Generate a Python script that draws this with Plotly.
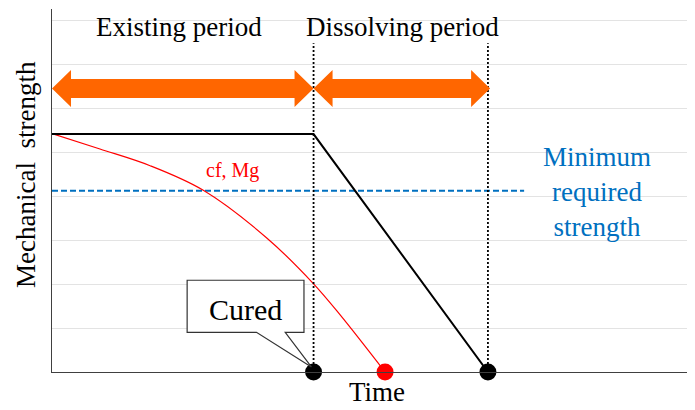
import plotly.graph_objects as go

# ---- data ----
# Existing structure (black): flat strength, then dissolves linearly
black_x = [0, 6, 10]
black_y = [5.42, 5.42, 0]

# cf, Mg curve (red)
red_x = [0, 1.10, 2.25, 3.47, 4.92, 5.99, 6.61, 7.64]
red_y = [5.43, 5.08, 4.70, 4.14, 3.06, 2.02, 1.30, 0.0]

# minimum required strength
min_strength = 4.13
min_x = [0, 10.83]

# end points
black_dot_x = [6, 10]
black_dot_y = [0, 0]
red_dot_x = [7.64]
red_dot_y = [0]

# periods
period_bounds = [0, 6, 10]
period_labels = ["Existing period", "Dissolving period"]
arrow_level = 6.46

FONT = "Liberation Serif, Times New Roman, serif"
ORANGE = "#FF6600"
BLUE = "#0070C0"

fig = go.Figure()

fig.add_trace(go.Scatter(x=min_x, y=[min_strength] * len(min_x), mode="lines",
                         line=dict(color=BLUE, width=2, dash="6px,3px"),
                         hoverinfo="skip", showlegend=False))
fig.add_trace(go.Scatter(x=red_x, y=red_y, mode="lines",
                         line=dict(color="#FF0000", width=1.2, shape="spline", smoothing=1),
                         showlegend=False))
fig.add_trace(go.Scatter(x=black_x, y=black_y, mode="lines",
                         line=dict(color="#000000", width=2),
                         showlegend=False))
fig.add_trace(go.Scatter(x=black_dot_x, y=black_dot_y, mode="markers",
                         marker=dict(color="#000000", size=17),
                         cliponaxis=False, showlegend=False))
fig.add_trace(go.Scatter(x=red_dot_x, y=red_dot_y, mode="markers",
                         marker=dict(color="#FF0000", size=17),
                         cliponaxis=False, showlegend=False))

shapes = []
# dotted vertical boundaries
for xb in period_bounds[1:]:
    shapes.append(dict(type="line", xref="x", yref="y", x0=xb, x1=xb, y0=0, y1=7.49,
                       line=dict(color="#000000", width=1.8, dash="2px,2px"), layer="above"))

# double-headed orange arrows
hl = 0.436   # head length (x units)
sh = 0.217   # half shaft thickness (y units)
hh = 0.42    # half head height (y units)
arrow_ends = [(period_bounds[0], period_bounds[1]), (period_bounds[1], period_bounds[2] + 0.05)]
for (a, b) in arrow_ends:
    y = arrow_level
    p = (f"M {a},{y} L {a+hl},{y+hh} L {a+hl},{y+sh} L {b-hl},{y+sh} L {b-hl},{y+hh} "
         f"L {b},{y} L {b-hl},{y-hh} L {b-hl},{y-sh} L {a+hl},{y-sh} L {a+hl},{y-hh} Z")
    shapes.append(dict(type="path", xref="x", yref="y", path=p, fillcolor=ORANGE,
                       line=dict(width=0), layer="above"))

# "Cured" callout
bx0, bx1, by0, by1 = 3.10, 5.78, 0.905, 2.09
w1, w2, tipx, tipy = 4.69, 5.35, 5.95, 0.115
callout = (f"M {bx0},{by1} L {bx1},{by1} L {bx1},{by0} L {w2},{by0} L {tipx},{tipy} "
           f"L {w1},{by0} L {bx0},{by0} Z")
shapes.append(dict(type="path", xref="x", yref="y", path=callout, fillcolor="white",
                   line=dict(color="#333333", width=1.2), layer="above"))

annotations = [
    dict(x=2.92, y=7.86, text=period_labels[0], font=dict(size=27)),
    dict(x=8.03, y=7.86, text=period_labels[1], font=dict(size=27)),
    dict(x=4.43, y=1.43, text="Cured", font=dict(size=30)),
    dict(x=4.14, y=4.58, text="cf, Mg", font=dict(size=20, color="#FF0000")),
    dict(x=12.5, y=4.11, text="Minimum<br>required<br>strength", align="center",
         font=dict(size=27, color=BLUE)),
]
for a in annotations:
    a.update(xref="x", yref="y", yanchor="middle")
# axis titles placed in paper coordinates (outside the plotting area)
annotations += [
    dict(x=0.505, y=-0.008, xref="paper", yref="paper", text="Time", yanchor="top",
         font=dict(size=27)),
    dict(x=-0.0404, y=0.543, xref="paper", yref="paper", text="Mechanical  strength",
         textangle=-90, yanchor="middle", font=dict(size=27)),
]
for a in annotations:
    a.update(showarrow=False, xanchor="center")
    a["font"].setdefault("color", "#000000")
    a["font"]["family"] = FONT

# page body has an 8px margin: shrink figure & margins so the plot lands where the reference has it
fig.update_layout(
    width=687, height=402,
    margin=dict(l=44, r=0, t=1, b=38),
    plot_bgcolor="white", paper_bgcolor="white",
    shapes=shapes, annotations=annotations,
    xaxis=dict(range=[0, 14.75], showgrid=False, zeroline=False, showticklabels=False,
               ticks="", showline=True, linecolor="#404040", linewidth=1.3, fixedrange=True),
    yaxis=dict(range=[0, 8.27], dtick=1, showgrid=True, gridcolor="#e3e3e3", gridwidth=1.3,
               zeroline=False, showticklabels=False, ticks="", showline=True,
               linecolor="#404040", linewidth=1.3, fixedrange=True),
    font=dict(family=FONT),
)

fig.write_html("out.html")
